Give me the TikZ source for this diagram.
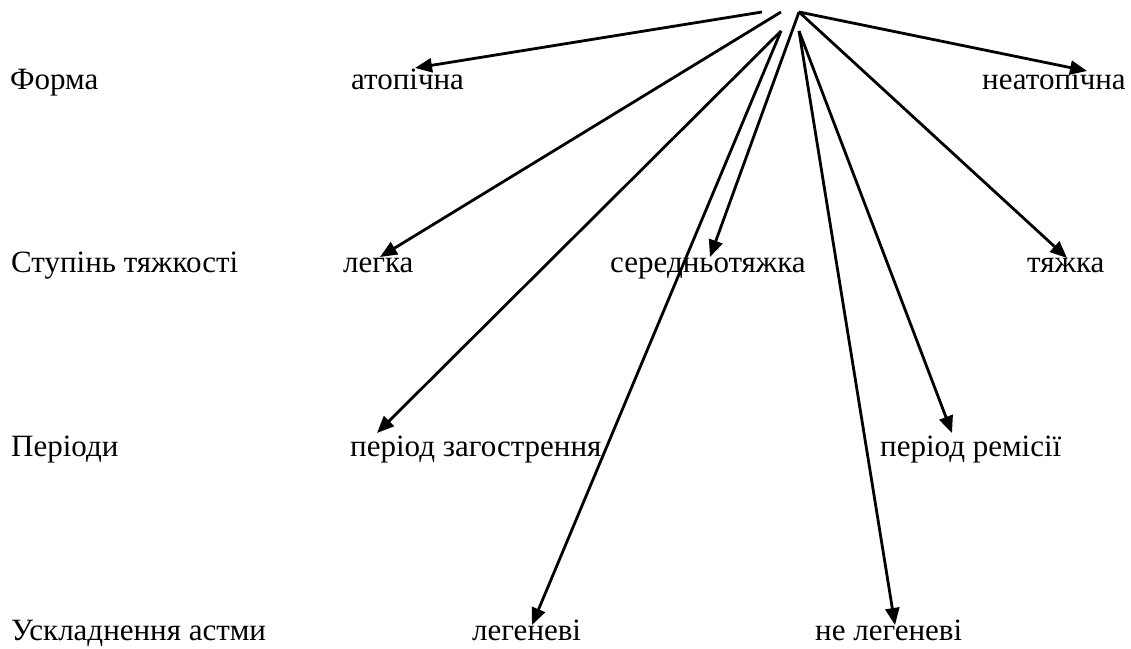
\documentclass[tikz,border=0pt]{standalone}
\usepackage{fontspec}
\setmainfont{Liberation Serif}
\usetikzlibrary{arrows.meta}
\begin{document}
\begin{tikzpicture}[x=1pt,y=-1pt,
  lbl/.style={anchor=base west,inner sep=0pt,font=\fontsize{31}{36}\selectfont},
  arr/.style={line width=2.8pt,-{Triangle[length=17pt,width=14pt]}}]
\useasboundingbox (0,0) rectangle (1131,648);
% row labels
\node[lbl] (r1) at (10,89) {Форма};
\node[lbl] (r2) at (11,272) {Ступінь тяжкості};
\node[lbl] (r3) at (11,456) {Періоди};
\node[lbl] (r4) at (11,640) {Ускладнення астми};
% values
\node[lbl] (atop) at (351,89) {атопічна};
\node[lbl] (neatop) at (982,89) {неатопічна};
\node[lbl] (legka) at (343,272) {легка};
\node[lbl] (sered) at (610,272) {середньотяжка};
\node[lbl] (tyazh) at (1027,272) {тяжка};
\node[lbl] (zag) at (350,456) {період загострення};
\node[lbl] (rem) at (880,456) {період ремісії};
\node[lbl] (leg) at (472,640) {легеневі};
\node[lbl] (neleg) at (815,640) {не легеневі};
% start points
\coordinate (s1) at (762,12);
\coordinate (s2) at (781,12);
\coordinate (s3) at (781,31);
\coordinate (s4) at (799,12);
\coordinate (s5) at (799,31);
% tips
\coordinate (t-atop) at (415,68);
\coordinate (t-neatop) at (1087,71);
\coordinate (t-legka) at (380,257);
\coordinate (t-sered) at (710,257);
\coordinate (t-tyazh) at (1067,258);
\coordinate (t-zag) at (377,433);
\coordinate (t-rem) at (952,433);
\coordinate (t-leg) at (532,625);
\coordinate (t-neleg) at (895,625);
% arrows
\draw[arr] (s1) -- (t-atop);
\draw[arr] (s2) -- (t-legka);
\draw[arr] (s3) -- (t-zag);
\draw[arr] (s3) -- (t-leg);
\draw[arr] (s4) -- (t-sered);
\draw[arr] (s4) -- (t-neatop);
\draw[arr] (s4) -- (t-tyazh);
\draw[arr] (s5) -- (t-rem);
\draw[arr] (s5) -- (t-neleg);
\end{tikzpicture}
\end{document}
